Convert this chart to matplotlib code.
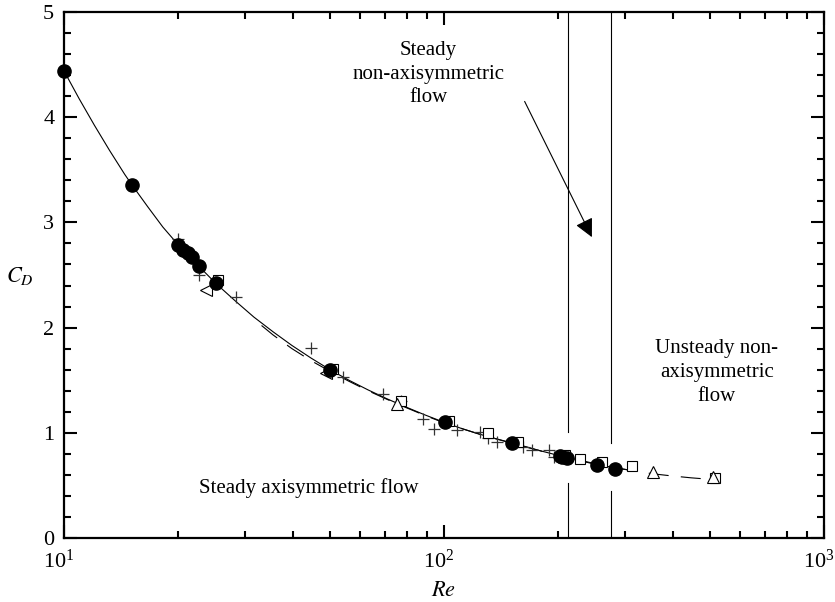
"""
Drag coefficient of a sphere vs Reynolds number, with flow-regime boundaries.
Writes out.png.
"""
import numpy as np
import matplotlib.pyplot as plt
from matplotlib.ticker import MultipleLocator, LogLocator, NullFormatter
from matplotlib.transforms import ScaledTranslation

# ──────────────────────────────────────────────────────────────────────────────
# Data
# ──────────────────────────────────────────────────────────────────────────────
circle_re = [10, 15.07, 20.0, 20.6, 21.2, 21.7, 22.6, 25.1, 50.1, 100.6,
             151.3, 201.8, 205, 210.9, 252.2, 281.8]
circle_cd = [4.44, 3.36, 2.785, 2.74, 2.71, 2.67, 2.59, 2.42, 1.60, 1.10,
             0.90, 0.78, 0.77, 0.757, 0.694, 0.66]

square_re = [25.5, 51, 77, 103, 130.6, 156.7, 208.3, 228, 260, 312, 518]
square_cd = [2.45, 1.61, 1.30, 1.115, 0.995, 0.915, 0.79, 0.75, 0.725, 0.68, 0.567]

triangle_re = [75.1, 354, 511]
triangle_cd = [1.27, 0.63, 0.583]

ltriangle_re = [23.7, 49]
ltriangle_cd = [2.36, 1.57]

plus_re = [20.0, 22.6, 28.4, 44.6, 54.1, 69.0, 77, 88.2, 94.0, 108, 124.3,
           130.6, 137.6, 161.7, 170.2, 188.6, 194.4]
plus_cd = [2.84, 2.50, 2.29, 1.81, 1.53, 1.365, 1.30, 1.135, 1.035, 1.025, 1.005,
           0.948, 0.915, 0.868, 0.836, 0.836, 0.773]

# solid fit through the filled circles
solid_re = [10, 10.96, 12.02, 13.18, 14.45, 15.07, 16.6, 18.2, 20, 22.4, 25.1,
            28.2, 31.6, 35.5, 39.8, 44.7, 50.1, 56.2, 63.1, 70.8, 79.4, 89.1,
            100, 112, 126, 141, 151, 178, 200, 224, 251, 282, 316]
solid_cd = [4.44, 4.176, 3.924, 3.684, 3.456, 3.36, 3.15, 2.956, 2.785, 2.60,
            2.42, 2.255, 2.10, 1.96, 1.83, 1.71, 1.60, 1.50, 1.408, 1.323, 1.245,
            1.17, 1.10, 1.037, 0.98, 0.93, 0.90, 0.832, 0.785, 0.745, 0.705,
            0.665, 0.64]

# dashed curve
dash_re = [33.1, 35.5, 39.8, 44.7, 50.1, 56.2, 63.1, 70.8, 79.4, 89.1, 100,
           126, 158, 200, 251, 316, 355, 398, 447, 501, 530]
dash_cd = [2.02, 1.93, 1.80, 1.685, 1.585, 1.49, 1.40, 1.318, 1.24, 1.165,
           1.095, 0.978, 0.885, 0.78, 0.70, 0.638, 0.61, 0.59, 0.572, 0.558, 0.553]

# regime boundaries: Re and the (bottom, top) CD of each drawn segment
boundary_re = [212, 275]
boundary_segments = [[(1.01, 5.0), (0.0, 0.52)],
                     [(0.90, 5.0), (0.0, 0.447)]]

# ──────────────────────────────────────────────────────────────────────────────
# Figure
# ──────────────────────────────────────────────────────────────────────────────
plt.rcParams["font.family"] = ["Liberation Serif", "DejaVu Serif"]
plt.rcParams["mathtext.fontset"] = "stix"

fig = plt.figure(figsize=(8.35, 6.02), dpi=100)
ax = fig.add_axes([64 / 835, 64 / 602, 760 / 835, 526 / 602])

ax.plot(solid_re, solid_cd, color="k", lw=0.8, zorder=2)
ax.plot(dash_re, dash_cd, color="k", lw=0.8, ls=(0, (18, 11)), zorder=2)

for x, segs in zip(boundary_re, boundary_segments):
    for lo, hi in segs:
        ax.plot([x, x], [lo, hi], color="k", lw=0.8, zorder=1)

ax.plot(plus_re, plus_cd, ls="", marker="+", ms=8.5, mew=0.9, color="#333333", zorder=3)
ax.plot(square_re, square_cd, ls="", marker="s", ms=7, mfc="white", mec="k",
        mew=0.8, zorder=3)
ax.plot(triangle_re, triangle_cd, ls="", marker="^", ms=8, mfc="white", mec="k",
        mew=0.8, zorder=3)
ax.plot(ltriangle_re, ltriangle_cd, ls="", marker="<", ms=8, mfc="white", mec="k",
        mew=0.8, zorder=3)
ax.plot(circle_re, circle_cd, ls="", marker="o", ms=9.5, color="k", zorder=4,
        clip_on=False)

# annotations
ax.text(90.8, 4.41, "Steady\nnon-axisymmetric\nflow", ha="center", va="center",
        fontsize=15, linespacing=1.32)
ax.annotate("", xy=(245, 2.86), xytext=(163, 4.15),
            arrowprops=dict(arrowstyle="-|>", color="k", lw=0.8,
                            mutation_scale=28, shrinkA=0, shrinkB=0))
ax.text(522, 1.575, "Unsteady non-\naxisymmetric\nflow", ha="center", va="center",
        fontsize=15, linespacing=1.35)
ax.text(44.1, 0.475, "Steady axisymmetric flow", ha="center", va="center",
        fontsize=15)

# axes
ax.set_xscale("log")
ax.set_xlim(10, 1000)
ax.set_ylim(0, 5)
ax.xaxis.set_major_locator(LogLocator(base=10))
ax.xaxis.set_minor_locator(LogLocator(base=10, subs=np.arange(2, 10)))
ax.xaxis.set_minor_formatter(NullFormatter())
ax.yaxis.set_major_locator(MultipleLocator(1))
ax.yaxis.set_minor_locator(MultipleLocator(0.2))

ax.tick_params(which="both", direction="in", top=True, right=True,
               labelsize=16, width=1.5)
ax.tick_params(which="major", length=9.5, pad=7)
ax.tick_params(axis="x", which="major", pad=8)
ax.tick_params(which="minor", length=5)
for sp in ax.spines.values():
    sp.set_linewidth(1.6)

# nudge the x tick labels a little left, as in the original
shift = ScaledTranslation(-5 / 100, 0, fig.dpi_scale_trans)
for lab in ax.get_xticklabels():
    lab.set_transform(lab.get_transform() + shift)

ax.set_xlabel("$Re$", fontsize=16)
ax.xaxis.set_label_coords(0.5, -0.083)
ax.set_ylabel("$C_D$", fontsize=16, rotation=0, va="center")
ax.yaxis.set_label_coords(-0.058, 0.498)

fig.savefig("out.png", dpi=100)
